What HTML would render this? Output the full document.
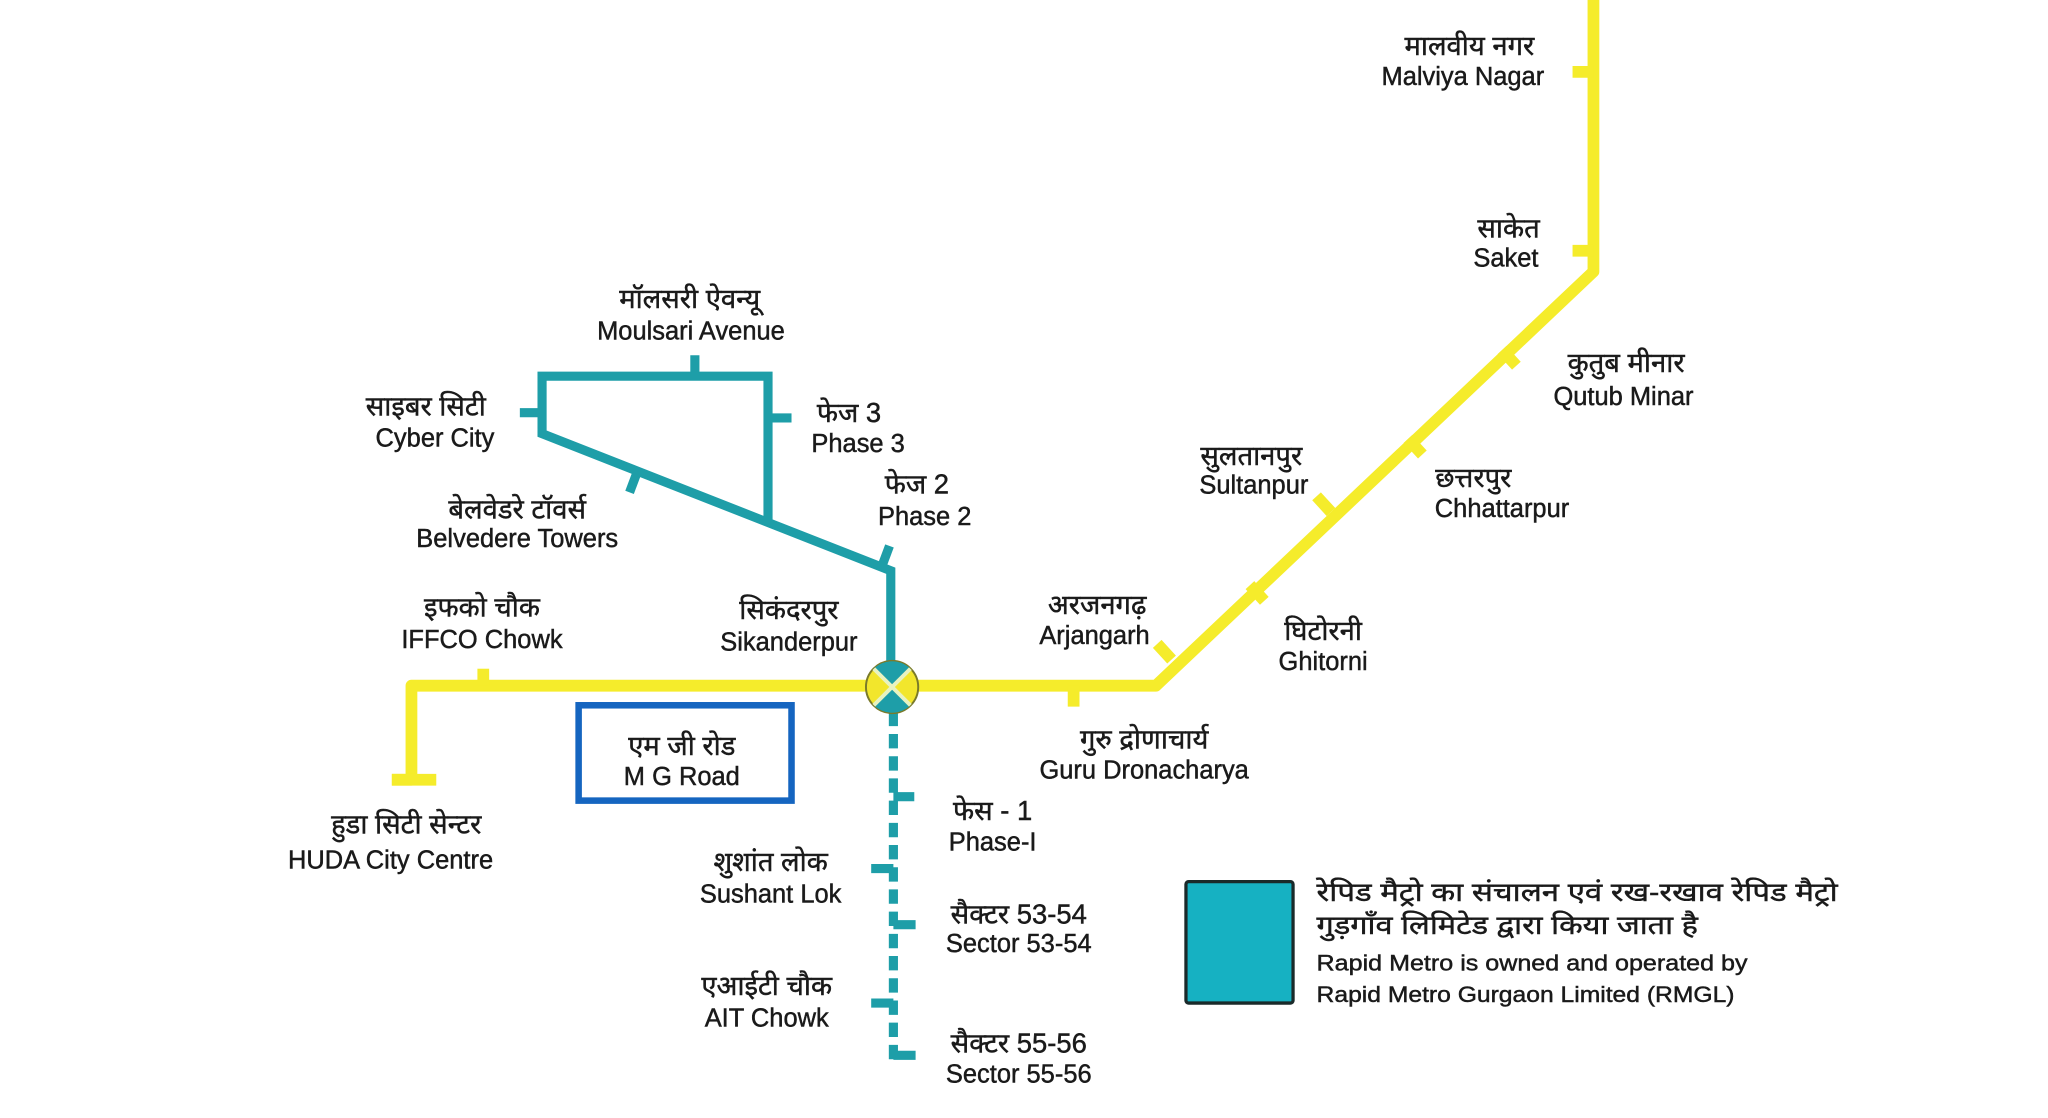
<!DOCTYPE html>
<html><head><meta charset="utf-8"><style>
html,body{margin:0;padding:0;background:#fff;}
svg{display:block;}
text{font-family:"Liberation Sans","DejaVu Sans",sans-serif;fill:#1a1a1a;stroke:#1a1a1a;stroke-width:0.35;}
.h{font-size:21px;}
.e{font-size:19.5px;}
</style></head><body>
<svg width="2048" height="1118" viewBox="0 0 1568 856" xmlns="http://www.w3.org/2000/svg">
<g stroke="#f5ec2b" stroke-width="9" fill="none" stroke-linecap="butt">
<polyline points="300,597 315,597 315,525 885,525 1220,208 1220,0" stroke-linejoin="round"/>
<line x1="300" y1="597" x2="334" y2="597"/>
<line x1="370" y1="512" x2="370" y2="525"/>
<line x1="822" y1="525" x2="822" y2="541"/>
<line x1="1204" y1="55" x2="1220" y2="55"/>
<line x1="1204" y1="192" x2="1220" y2="192"/>
<line x1="1150" y1="268" x2="1161" y2="280"/>
<line x1="1078" y1="336" x2="1089" y2="348"/>
<line x1="1019" y1="392" x2="1008" y2="380"/>
<line x1="957" y1="448" x2="968" y2="460"/>
<line x1="897" y1="505" x2="886" y2="493"/>
</g>
<g stroke="#1e9ea8" stroke-width="7" fill="none">
<polyline points="682,525 682,437 415,332 415,288 588,288 588,401"/>
<line x1="532" y1="272" x2="532" y2="288"/>
<line x1="398" y1="316" x2="415" y2="316"/>
<line x1="588" y1="320" x2="606" y2="320"/>
<line x1="488" y1="361" x2="482" y2="377"/>
<line x1="675" y1="434" x2="681" y2="418"/>
<line x1="684" y1="545" x2="684" y2="815" stroke-dasharray="11,6"/>
<line x1="684" y1="610" x2="700" y2="610"/>
<line x1="684" y1="708" x2="701" y2="708"/>
<line x1="684" y1="808" x2="701" y2="808"/>
<line x1="667" y1="665" x2="684" y2="665"/>
<line x1="667" y1="768" x2="684" y2="768"/>
</g>
<g>
<circle cx="683" cy="526" r="20" fill="#f2e62c" stroke="#7a7a2a" stroke-width="1.5"/>
<path d="M669,512 L683,526 L697,512 A20,20 0 0 0 669,512Z" fill="#1e9ea8"/>
<path d="M669,540 L683,526 L697,540 A20,20 0 0 1 669,540Z" fill="#1e9ea8"/>
<line x1="669" y1="512" x2="697" y2="540" stroke="#e8f2c0" stroke-width="3"/>
<line x1="697" y1="512" x2="669" y2="540" stroke="#e8f2c0" stroke-width="3"/>
</g>
<rect x="443" y="540" width="163" height="73" fill="#fff" stroke="#1565c0" stroke-width="5"/>
<rect x="908" y="675" width="82" height="93" rx="2" fill="#16b1c2" stroke="#1a2a2a" stroke-width="2.5"/>
<g text-anchor="middle">
<text class="h" x="1125" y="42">मालवीय नगर</text><text class="e" x="1120" y="65">Malviya Nagar</text>
<text class="h" x="1155" y="182">साकेत</text><text class="e" x="1153" y="204">Saket</text>
<text class="h" x="1245" y="285">कुतुब मीनार</text><text class="e" x="1243" y="310">Qutub Minar</text>
<text class="h" x="958" y="356">सुलतानपुर</text><text class="e" x="960" y="378">Sultanpur</text>
<text class="h" x="1128" y="373">छत्तरपुर</text><text class="e" x="1150" y="396">Chhattarpur</text>
<text class="h" x="840" y="470">अरजनगढ़</text><text class="e" x="838" y="493">Arjangarh</text>
<text class="h" x="1013" y="490">घिटोरनी</text><text class="e" x="1013" y="513">Ghitorni</text>
<text class="h" x="876" y="573">गुरु द्रोणाचार्य</text><text class="e" x="876" y="596">Guru Dronacharya</text>
<text class="h" x="528" y="236">मॉलसरी ऐवन्यू</text><text class="e" x="529" y="260">Moulsari Avenue</text>
<text class="h" x="326" y="318">साइबर सिटी</text><text class="e" x="333" y="342">Cyber City</text>
<text class="h" x="650" y="323">फेज 3</text><text class="e" x="657" y="346">Phase 3</text>
<text class="h" x="702" y="378">फेज 2</text><text class="e" x="708" y="402">Phase 2</text>
<text class="h" x="396" y="397">बेलवेडरे टॉवर्स</text><text class="e" x="396" y="419">Belvedere Towers</text>
<text class="h" x="369" y="472">इफको चौक</text><text class="e" x="369" y="496">IFFCO Chowk</text>
<text class="h" x="604" y="474">सिकंदरपुर</text><text class="e" x="604" y="498">Sikanderpur</text>
<text class="h" x="311" y="638">हुडा सिटी सेन्टर</text><text class="e" x="299" y="665">HUDA City Centre</text>
<text class="h" x="522" y="578">एम जी रोड</text><text class="e" x="522" y="601">M G Road</text>
<text class="h" x="760" y="628">फेस - 1</text><text class="e" x="760" y="651">Phase-I</text>
<text class="h" x="590" y="667">शुशांत लोक</text><text class="e" x="590" y="691">Sushant Lok</text>
<text class="h" x="780" y="707">सैक्टर 53-54</text><text class="e" x="780" y="729">Sector 53-54</text>
<text class="h" x="587" y="762">एआईटी चौक</text><text class="e" x="587" y="786">AIT Chowk</text>
<text class="h" x="780" y="806">सैक्टर 55-56</text><text class="e" x="780" y="829">Sector 55-56</text>
</g>
<text x="1008" y="690" style="font-size:20px" textLength="399" lengthAdjust="spacingAndGlyphs">रेपिड मैट्रो का संचालन एवं रख-रखाव रेपिड मैट्रो</text>
<text x="1008" y="715" style="font-size:20px" textLength="292" lengthAdjust="spacingAndGlyphs">गुड़गाँव लिमिटेड द्वारा किया जाता है</text>
<text x="1008" y="743" style="font-size:17px" textLength="330" lengthAdjust="spacingAndGlyphs">Rapid Metro is owned and operated by</text>
<text x="1008" y="767" style="font-size:17px" textLength="320" lengthAdjust="spacingAndGlyphs">Rapid Metro Gurgaon Limited (RMGL)</text>
</svg>
</body></html>
